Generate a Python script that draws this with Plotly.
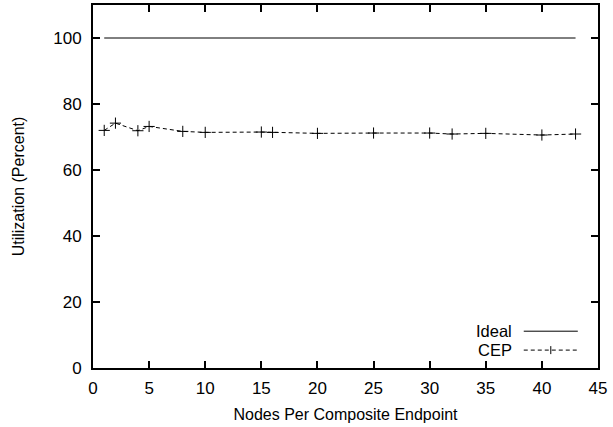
import plotly.graph_objects as go

nodes = [1, 2, 4, 5, 8, 10, 15, 16, 20, 25, 30, 32, 35, 40, 43]
cep = [72.0, 74.2, 71.9, 73.2, 71.7, 71.4, 71.5, 71.4, 71.1, 71.2, 71.2, 70.9, 71.1, 70.6, 70.9]
ideal_x = [1, 43]
ideal_y = [100, 100]
x_ticks = [0, 5, 10, 15, 20, 25, 30, 35, 40, 45]
y_ticks = [0, 20, 40, 60, 80, 100]

FONT = "Liberation Sans, Arial, Helvetica, sans-serif"
TICK_FS = 17
TITLE_FS = 16
LEG_FS = 16.5

fig = go.Figure()
fig.add_trace(go.Scatter(x=ideal_x, y=ideal_y, mode="lines",
                         line=dict(color="black", width=1), name="Ideal", showlegend=False))
fig.add_trace(go.Scatter(x=nodes, y=cep, mode="lines+markers",
                         line=dict(color="black", width=1, dash="4px,3px"),
                         marker=dict(symbol="cross-thin", size=8, line=dict(color="black", width=1)),
                         name="CEP", showlegend=False))

axis_common = dict(showline=True, linecolor="black", linewidth=2, mirror="ticks",
                   ticks="inside", ticklen=7, tickcolor="black", tickwidth=2,
                   showgrid=False, zeroline=False,
                   tickfont=dict(family=FONT, size=TICK_FS, color="black"))

fig.update_xaxes(range=[0, 45], tickvals=x_ticks, ticklabelstandoff=4,
                 title=dict(text="Nodes Per Composite Endpoint", font=dict(family=FONT, size=TITLE_FS, color="black"), standoff=11),
                 **axis_common)
fig.update_yaxes(range=[0, 110], tickvals=y_ticks, ticklabelstandoff=6,
                 title=dict(text="Utilization (Percent)", font=dict(family=FONT, size=TITLE_FS, color="black"), standoff=25),
                 **axis_common)

# legend (gnuplot style: label then sample)
Y_IDEAL = 0.1014
Y_CEP = 0.0493
fig.add_annotation(xref="paper", yref="paper", x=0.833, y=Y_IDEAL, text="Ideal", showarrow=False,
                   xanchor="right", yanchor="middle", font=dict(family=FONT, size=LEG_FS, color="black"))
fig.add_annotation(xref="paper", yref="paper", x=0.833, y=Y_CEP, text="CEP", showarrow=False,
                   xanchor="right", yanchor="middle", font=dict(family=FONT, size=LEG_FS, color="black"))
fig.add_shape(type="line", xref="paper", yref="paper", x0=0.853, x1=0.960, y0=Y_IDEAL, y1=Y_IDEAL,
              line=dict(color="black", width=1))
fig.add_shape(type="line", xref="paper", yref="paper", x0=0.853, x1=0.960, y0=Y_CEP, y1=Y_CEP,
              line=dict(color="black", width=1, dash="4px,3px"))
fig.add_shape(type="line", xref="paper", yref="paper", x0=0.9065, x1=0.9065, y0=Y_CEP - 0.011, y1=Y_CEP + 0.011,
              line=dict(color="black", width=1))

fig.update_layout(width=613, height=427, margin=dict(l=93, r=15, t=3, b=59),
                  plot_bgcolor="white", paper_bgcolor="white", showlegend=False)

fig.write_html("out.html", config={"displayModeBar": False},
               post_script="document.body.style.margin='0px';")
